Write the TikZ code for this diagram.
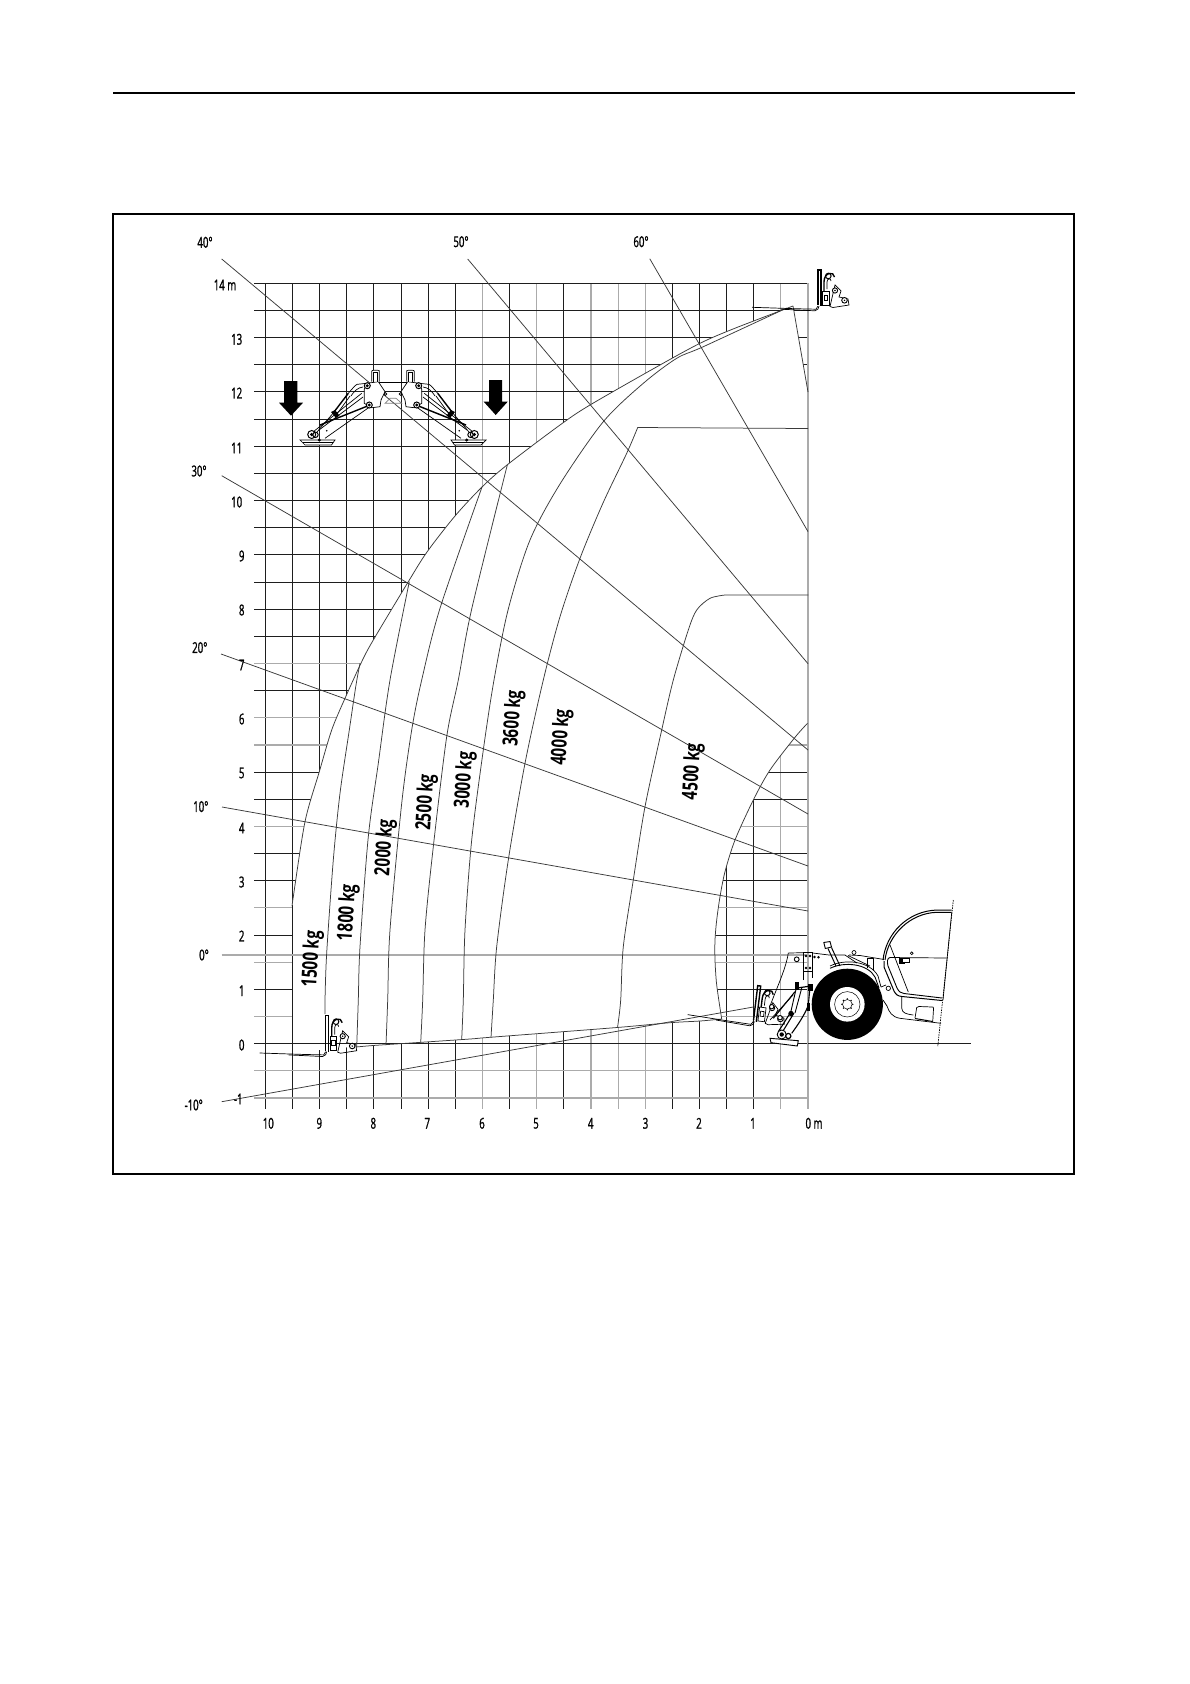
\documentclass[tikz,border=0pt]{standalone}
\usepackage{fontspec}
\usetikzlibrary{calc}
\setmainfont{Open Sans}
\newfontfamily\numf[FakeStretch=0.64,FakeBold=1.2]{Open Sans}
\newfontfamily\kgf[FakeStretch=0.72]{Open Sans}
\definecolor{gd}{HTML}{1E1E1E}
\definecolor{gg}{HTML}{ABABAB}
\definecolor{cv}{HTML}{3A3A3A}
\tikzset{
  gridd/.style={draw=gd,line width=0.9pt},
  gridg/.style={draw=gg,line width=1.1pt},
  angline/.style={draw=cv,line width=0.75pt},
  loadc/.style={draw=cv,line width=0.75pt},
  mech/.style={draw=black,line width=0.7pt},
  mechk/.style={draw=black,line width=1.4pt},
  ax/.style={font=\numf\fontsize{15}{17}\selectfont,inner sep=0pt,text=black},
  kg/.style={font=\kgf\bfseries\fontsize{21}{23}\selectfont,inner sep=0pt,rotate=86.5,text=black},
  arrowdown/.style={fill=black,draw=none},
  carriage/.pic={
    \draw[mech] (-63,-1.7) -- (-20,-0.3) -- (1,0.2) -- (3,-3);
    \draw[mech] (-34,0.2) -- (0,1.8) -- (3,0) -- (4,-3);
    \draw[mechk] (3,-4) -- (3,-39) -- (6,-39) -- (6,-3);
    \draw[mechk] (9,-6) -- (9,-27) .. controls (9,-37) and (19,-38) .. (19.5,-32);
    \draw[mech] (12,-20) -- (12,-27) .. controls (12,-31) and (16,-31) .. (16,-28);
    \draw[mech,line width=1pt] (13.3,-33) circle (2.8);
    \draw[mech,fill=white] (7.5,-18) rectangle (14,-4);
    \draw[mech] (9,-14) rectangle (12.5,-9);
    \draw[mech] (15,-2.5) -- (20,-24) -- (26,-18) -- (24,-12) -- (33,-10) -- (34,-4) -- (18,-1.5) -- cycle;
    \draw[mech,fill=white,line width=.9pt] (20,-18.5) circle (2.6);
    \fill (20,-18.5) circle (0.8);
    \draw[mech,fill=white,line width=.9pt] (29.5,-8.7) circle (2.8);
    \fill (29.5,-8.7) circle (0.8);
  }
}
\newcommand\StabHalf{%
  \draw[mech,fill=white] (-93,440) -- (-58,440) -- (-61.5,445) -- (-88,445) -- cycle;
  \draw[mech] (-90,442.5) -- (-60,442.5);
  \draw[mech] (-81.3,433) -- (-31.3,393.3);
  \draw[mech] (-68,438.3) -- (-23,406.7);
  \draw[mech] (-74,430) -- (-30,397);
  \draw[mechk] (-73,425) -- (-23,405);
  \draw[mech] (-76,432) -- (-60,413.3);
  \draw[mechk] (-60,413.3) -- (-44.7,393.3);
  \draw[mech] (-57.5,416) -- (-43,396);
  \fill (-62,412) -- (-58,410) -- (-53.5,415.5) -- (-57,418) -- cycle;
  \draw[mech] (-44.7,393.3) .. controls (-41,389) and (-37,384.3) .. (-35.7,384.3) -- (-26.3,383.3);
  \draw[mech] (-42,396) .. controls (-39,391) and (-35,387.5) .. (-30,387);
  \draw[mech,fill=white] (-28.7,389.3) -- (-28.7,403.3) -- (-21.3,407.7) -- (-13,406.7) -- (-12,400) -- (-8,391.7) -- (-14.7,381.7) -- (-26.3,383.3) -- cycle;
  \draw[mech,fill=white] (-21.3,381.7) -- (-21.3,371.5) .. controls (-21,370.3) .. (-19,370.3) -- (-15.5,370.3) .. controls (-13.7,370.3) .. (-13.7,371.5) -- (-13.7,381.7);
  \draw[mech] (-19.5,381.7) -- (-19.5,372.5) -- (-15.5,372.5) -- (-15.5,381.7);
  \draw[mech,line width=1pt,fill=white] (-25.7,385.7) circle (3);
  \fill (-25.7,385.7) circle (1.6);
  \draw[mech,line width=1pt,fill=white] (-23.7,405) circle (3);
  \fill (-23.7,405) circle (1.6);
  \draw[mech,line width=1pt,fill=white] (-81.3,434.5) circle (4);
  \fill (-81.3,434.5) circle (1.8);
  \draw[mech,line width=1pt] (-77.5,434.8) circle (2.7);
  \fill (-73.7,440) circle (1.7);
  \fill (-66.3,430.7) circle (0.9);
  \draw[mech] (-7.5,394) circle (1.4);
}
\begin{document}
\begin{tikzpicture}[x=1pt,y=-1pt]
\useasboundingbox (0,0) rectangle (1190,1684);
\fill[white] (0,0) rectangle (1190,1684);
% page rule and frame
\draw[line width=2pt,black] (113,92.5) -- (1075,92.5);
\draw[line width=1.5pt,black] (113,214) rectangle (1074,1174);
% vertical grid
\foreach \i in {2,3,4,5,9,11,13,14,15,16,17,18,19,20}
  \draw[gridd] ({808-27.13*\i},283.3) -- ({808-27.13*\i},1108.7);
\foreach \i in {1,6,7,8,10,12}
  \draw[gridg] ({808-27.13*\i},283.3) -- ({808-27.13*\i},1108.7);
% horizontal grid
\foreach \k in {0,2,4,6,7,9,10,13,15,16,17,18,19,20,21,22,23,24,25,26,27,28}
  \draw[gridd] (254.3,{1043.7-27.157*\k}) -- (808,{1043.7-27.157*\k});
\foreach \k in {-2,-1,1,3,5,8,11,12,14}
  \draw[gridg] (254.3,{1043.7-27.157*\k}) -- (808,{1043.7-27.157*\k});
% white load-chart area
\fill[white] plot[smooth] coordinates {(292.3,905) (293.3,896.7) (305,821.7) (319.3,771.7) (331.7,730) (345,698.3) (361.7,661.7) (373.3,640) (408.3,581.7) (427,552) (455,516) (482,487) (507,465) (560,425) (590,405) (660,365) (700,343.3) (733,329) (793,306)}
 -- (808,392) -- plot[smooth] coordinates {(807.5,723.3) (795,737.3) (770,770) (753.3,800) (735,840) (725,871.7) (720,896.7) (716.7,920) (715,940) (715,960) (716.7,985) (721.7,1019)}
 -- plot[smooth] coordinates {(700,1021) (670,1022.7) (617,1027.5) (490,1037.3) (470,1039) (400,1043.7) (373,1045.5) (346,1047.5) (319,1050) (292.3,1052)} -- cycle;
\draw[gridg] (808,283.3) -- (808,1108.7);
\draw[gridd] (292.3,905) -- (292.3,1052);
\draw[gridd] (254.3,1043.7) -- (420,1043.7);
\draw[gridg] (221.7,955) -- (808,955);
% envelope and load curves
\draw[loadc] plot[smooth] coordinates {(292.3,905) (293.3,896.7) (305,821.7) (319.3,771.7) (331.7,730) (345,698.3) (361.7,661.7) (373.3,640) (408.3,581.7) (427,552) (455,516) (482,487) (507,465) (560,425) (590,405) (660,365) (700,343.3) (733,329) (793,306)};
\draw[loadc] (793,306) -- (808,392);
\draw[loadc] plot[smooth] coordinates {(807.5,723.3) (795,737.3) (770,770) (753.3,800) (735,840) (725,871.7) (720,896.7) (716.7,920) (715,940) (715,960) (716.7,985) (721.7,1019)};
\draw[loadc] plot[smooth] coordinates {(721.7,1019) (700,1021) (670,1022.7) (617,1027.5) (490,1037.3) (470,1039) (400,1043.7) (373,1045.5) (356,1047)};
\draw[loadc] plot[smooth] coordinates {(325,1014) (325,1000) (326.7,953) (333.3,860) (340,793.3) (349.3,730) (356,685) (360,663.3)};
\draw[loadc] plot[smooth] coordinates {(356.7,1047) (358.3,1000) (360,946.7) (368.3,836.7) (378.3,763.3) (390,680) (409.3,581.7)};
\draw[loadc] plot[smooth] coordinates {(386,1045) (387.7,1000) (390,930) (401.7,803.3) (411.7,730) (421.7,680) (440,608.3) (482,487)};
\draw[loadc] plot[smooth] coordinates {(420.7,1042.7) (422.7,1000) (425,930) (433.3,846.7) (446.7,736.7) (458.3,680) (471.7,609) (507.3,465)};
\draw[loadc] plot[smooth] coordinates {(461.7,1039.3) (463.3,1000) (465,930) (471.7,840) (483.3,750) (494,680) (508.3,609) (530,540) (560,484) (603.3,421.7) (643.3,383.3) (676.7,358.3) (703.3,346.7) (786.7,308)};
\draw[loadc] plot[smooth] coordinates {(491,1037.5) (493.3,1000) (496.7,946.7) (508.3,860) (525,763.3) (543.3,680) (560,616.7) (580,558.3) (603,503) (626.7,453.3) (637.7,427.5)} -- (808,428.5);
\draw[loadc] plot[smooth] coordinates {(617.6,1027) (620.7,1000) (623.3,946.7) (633.3,880) (645,806.7) (661.7,730) (673.3,680) (688.3,630) (696.7,610) (710,598.3) (725,595)} -- (808.3,595);
% angle rays
\draw[angline] (221.7,1101.7) -- (753.3,1007);
\draw[angline] (222,807) -- (808,911);
\draw[angline] (221,654) -- (808,866);
\draw[angline] (221.7,475.7) -- (808,814);
\draw[angline] (221.7,259) -- (808,750);
\draw[angline] (467.7,259) -- (808,663.7);
\draw[angline] (649.8,258.8) -- (808,531.6);
% fork carriages
\path pic at (815,309) {carriage};
\path pic at (322.7,1054.7) {carriage};
\path pic[rotate=-7] at (750,1024) {carriage};
% stabiliser sketch
\begin{scope}[shift={(393,0)}]
  \StabHalf
\end{scope}
\begin{scope}[shift={(393,0)},xscale=-1]
  \StabHalf
\end{scope}
\draw[mechk] (379.3,382.3) -- (406.7,382.3);
\draw[mech,draw=gray] (385,403.3) -- (390,398.3) -- (396,398.3) -- (401.7,403.3) -- cycle;
% down arrows
\fill[arrowdown] (284,381) -- (297.3,381) -- (297.3,402.7) -- (303,402.7) -- (291,415.7) -- (279,402.7) -- (284,402.7) -- cycle;
\fill[arrowdown] (489,380) -- (502,380) -- (502,401.7) -- (507.7,401.7) -- (495.7,415) -- (483.7,401.7) -- (489,401.7) -- cycle;
% machine
\draw[gridd] (808,1043.7) -- (970.7,1043.7);
\draw[mech] (788.3,953) .. controls (786,968) and (778,985) .. (770,1006);
\draw[mech] (788.3,953) -- (803,952.7);
\draw[mech] (812.7,953) -- (829,955) -- (845,955);
\draw[mech,line width=.9pt] (803.3,952.7) rectangle (812.7,971.7);
\draw[mech] (803.3,980) -- (803.3,971.7) (812.7,971.7) -- (812.7,978);
\foreach \p in {(806,956),(810,956),(814.5,957),(818.5,957.3),(806,968),(810,968)} \draw[mech] \p circle (0.9);
\draw[mech,line width=.9pt] (796.7,959.3) circle (2.4);
\draw[mech,line width=.9pt,fill=white] (823.8,942.5) -- (830,941.5) -- (831.5,947) -- (825.3,948.5) -- cycle;
\draw[mech,line width=1pt] (828,948.5) -- (836,966);
\draw[mech,line width=1pt] (831.5,947.5) -- (840,966);
% fender
\draw[mech,line width=.9pt] (830,968.3) .. controls (845,961) and (868,964) .. (875,977) -- (879,988);
\draw[mech] (830,966) .. controls (845,958.5) and (870,961) .. (878,976) -- (881,987);
\draw[mech] (845,955) -- (857,963) (848,955.5) -- (870,966);
\draw[mech] (854,952.5) circle (2);
\draw[mech] (849,955) -- (860,955.5) -- (884,959.5);
\draw[mech] (867.3,968.3) -- (867.3,958.3) -- (873.5,958.3) -- (873.5,970);
\draw[mech] (881,987) -- (886,985);
\draw[mech] (888.3,988.3) circle (2.2);
% lower body
\draw[mech] (883,1000) -- (887,1006) .. controls (889,1012) and (892,1017) .. (900,1018.3) -- (941,1023.3);
\draw[mech] (901.7,997) -- (901.7,1008) .. controls (902,1013) and (906,1014) .. (913.3,1015);
\draw[mech] (915,1018) -- (916.7,1007.5) .. controls (917,1006.5) .. (919,1006.5) -- (932,1007) .. controls (933.5,1007) .. (933.5,1009) -- (932.7,1022);
\draw[mech,line width=1pt] (915,1018.5) -- (932.7,1021.5);
% cab
\draw[mech,line width=1pt] (885,960) .. controls (888,935) and (910,913) .. (937,912.3) -- (951.7,912.3);
\draw[mech,line width=1pt] (883,960) .. controls (886,933) and (908,911) .. (937,910) -- (951.7,910);
\draw[mech] (951.7,912.7) -- (943,1000);
\draw[mech,dash pattern=on 1.5pt off 1pt] (953.3,900) -- (937.7,1046.7);
\draw[mech,line width=1pt] (884,961) -- (884,967) -- (894,991) .. controls (896,995) and (898,996) .. (902,996.5) -- (942,1000.5);
\draw[mech,line width=.9pt] (890,957.5) .. controls (887,958) and (887,962) .. (888,966) -- (897,988) .. controls (899,992) and (901,993) .. (904,993.5) -- (942,998);
\draw[mech] (890,957.5) -- (946.7,958);
\draw[mech] (890,945) -- (908.3,992);
\fill (899,958) rectangle (905,964);
\draw[mech,fill=white] (902,958.5) rectangle (909,962.5);
\draw[mech] (911.7,953.3) circle (1.4);
% wheel
\fill[black] (847.3,1004.3) circle (35.6);
\fill[white] (847.3,1004.3) circle (17.3);
\draw[mech,line width=.5pt] (847.3,1004.3) circle (12.7);
\draw[mech,line width=.5pt] (847.3,1004.3) circle (4.8);
\foreach \a in {0,45,...,315} \fill[black] ($(847.3,1004.3)+(\a:5.4)$) circle (0.8);
% front stabiliser
\draw[mech,fill=white,line width=.9pt] (770,1038.3) -- (771,1042.7) -- (797.3,1046) -- (798.3,1040.7) -- cycle;
\draw[mech,line width=1.1pt] (778.3,1031.7) -- (790,1013.3);
\draw[mech,line width=1.1pt] (783,1031) -- (794,1013);
\draw[mech,line width=1.1pt] (791.7,1033.3) .. controls (800,1022) and (806,1012) .. (808.3,1005) -- (810,987);
\draw[mech,line width=.9pt] (791,1011) -- (797,985);
\draw[mech,line width=.9pt] (795,1013) -- (802,987);
\draw[mech,line width=1.1pt] (773.3,1018.3) -- (795,991.7);
\draw[mech] (770,1020) -- (793,995);
\draw[mech,line width=1.2pt] (797,988) -- (811,986);
\draw[mech,line width=.9pt,fill=white] (781.7,1034.5) circle (4.5);
\fill (781.7,1034.5) circle (2.2);
\draw[mech,line width=1.2pt,fill=white] (788.3,1036) circle (2.6);
\fill (791,1013.5) circle (2.7);
\fill (795,982) rectangle (799,990);
\fill (807.5,984) rectangle (812.5,990.5);
\fill (806.5,1003) rectangle (810,1011);
\draw[mech,line width=.9pt,fill=white] (771.7,1006.7) circle (2.2);
\draw[mech,line width=.9pt,fill=white] (780,1017.7) circle (2.2);
% axis labels
\node[ax] (n14) at (225,285) {14 m};
\node[ax] (n13) at (236.7,339.3) {13};
\node[ax] (n12) at (236.7,393) {12};
\node[ax] (n11) at (236.7,448) {11};
\node[ax] (n10) at (236.7,502) {10};
\node[ax] (n9) at (241.7,556) {9};
\node[ax] (n8) at (241.7,610) {8};
\node[ax] (n7) at (241.7,665) {7};
\node[ax] (n6) at (241.7,719) {6};
\node[ax] (n5) at (241.7,773) {5};
\node[ax] (n4) at (241.7,828) {4};
\node[ax] (n3) at (241.7,882) {3};
\node[ax] (n2) at (241.7,936) {2};
\node[ax] (n1) at (241.7,990.7) {1};
\node[ax] (n0) at (241.7,1045) {0};
\node[ax] (nm1) at (238.3,1099) {-1};
\node[ax] (a40) at (205,242.3) {40°};
\node[ax] (a50) at (461,241.7) {50°};
\node[ax] (a60) at (641,241.7) {60°};
\node[ax] (a30) at (199,471) {30°};
\node[ax] (a20) at (199.8,647.6) {20°};
\node[ax] (a10) at (200.8,806.6) {10°};
\node[ax] (a0) at (204,955) {0°};
\node[ax] (am10) at (193.7,1105) {-10°};
\node[ax] (x10) at (268.3,1123.3) {10};
\node[ax] (x9) at (319.3,1123.3) {9};
\node[ax] (x8) at (373.3,1123.3) {8};
\node[ax] (x7) at (427.3,1123.3) {7};
\node[ax] (x6) at (482,1123.3) {6};
\node[ax] (x5) at (536,1123.3) {5};
\node[ax] (x4) at (590.7,1123.3) {4};
\node[ax] (x3) at (645.5,1123.3) {3};
\node[ax] (x2) at (699,1123.3) {2};
\node[ax] (x1) at (753,1123.3) {1};
\node[ax] (x0) at (814,1123.3) {0 m};
% load labels
\node[kg] (k15) at (312.3,959) {1500 kg};
\node[kg] (k18) at (348,912.7) {1800 kg};
\node[kg] (k20) at (385.3,847.7) {2000 kg};
\node[kg] (k25) at (426.3,802.3) {2500 kg};
\node[kg] (k30) at (465,780) {3000 kg};
\node[kg] (k36) at (513.7,718.3) {3600 kg};
\node[kg] (k40) at (561.7,737.3) {4000 kg};
\node[kg] (k45) at (693,771.7) {4500 kg};
\end{tikzpicture}
\end{document}
